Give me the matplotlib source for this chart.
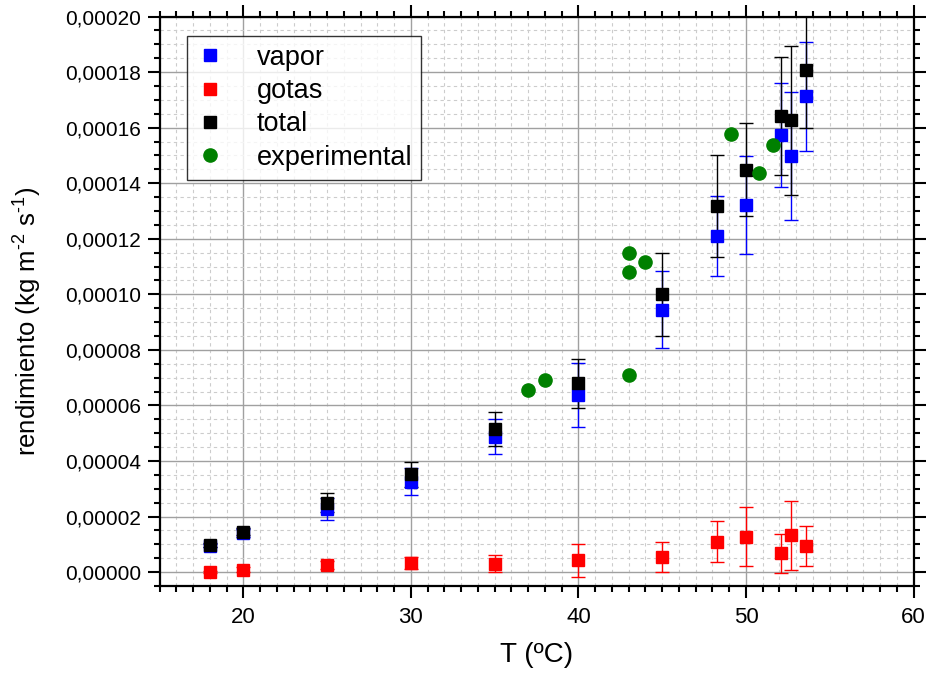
import numpy as np
import matplotlib.pyplot as plt
from matplotlib.lines import Line2D
from matplotlib.ticker import MultipleLocator, FuncFormatter

plt.rcParams['font.family'] = ['Liberation Sans', 'DejaVu Sans']
plt.rcParams['mathtext.fontset'] = 'custom'
plt.rcParams['mathtext.rm'] = 'Liberation Sans'

# temperatures of the simulated points (ºC)
T = [18, 20, 25, 30, 35, 40, 45, 48.3, 50, 52.1, 52.7, 53.6]

vapor = [9.5e-6, 1.40e-5, 2.26e-5, 3.26e-5, 4.87e-5, 6.38e-5, 9.45e-5,
         1.209e-4, 1.321e-4, 1.575e-4, 1.497e-4, 1.713e-4]
vapor_err = [0.6e-6, 1.5e-6, 4.0e-6, 4.9e-6, 6.3e-6, 1.15e-5, 1.38e-5,
             1.44e-5, 1.77e-5, 1.87e-5, 2.3e-5, 1.97e-5]

gotas = [0.0, 8e-7, 2.6e-6, 3.3e-6, 3.0e-6, 4.3e-6, 5.4e-6,
         1.09e-5, 1.28e-5, 6.8e-6, 1.32e-5, 9.5e-6]
gotas_err = [0.3e-6, 0.9e-6, 1.5e-6, 2.3e-6, 3.0e-6, 6.0e-6, 5.4e-6,
             7.4e-6, 1.05e-5, 7.1e-6, 1.25e-5, 7.2e-6]

total = [9.8e-6, 1.46e-5, 2.5e-5, 3.52e-5, 5.15e-5, 6.8e-5, 1.0e-4,
         1.317e-4, 1.448e-4, 1.642e-4, 1.626e-4, 1.808e-4]
total_err = [0.6e-6, 1.2e-6, 3.5e-6, 4.4e-6, 6.0e-6, 8.8e-6, 1.5e-5,
             1.83e-5, 1.67e-5, 2.13e-5, 2.68e-5, 2.1e-5]

T_exp = [37, 38, 43, 43, 43, 44, 49.1, 50.8, 51.6]
exp_val = [6.55e-5, 6.93e-5, 7.1e-5, 1.08e-4, 1.15e-4, 1.118e-4,
           1.577e-4, 1.438e-4, 1.538e-4]

fig = plt.figure(figsize=(9.28, 6.77), dpi=100)
ax = fig.add_axes([0.1719, 0.1344, 0.8125, 0.8412])

ax.errorbar(T, vapor, yerr=vapor_err, fmt='s', color='#0000ff', ms=8.5,
            ecolor='#0000ff', elinewidth=1, capsize=5, capthick=1, zorder=3)
ax.errorbar(T, gotas, yerr=gotas_err, fmt='s', color='#ff0000', ms=8.5,
            ecolor='#ff0000', elinewidth=1, capsize=5, capthick=1, zorder=3)
ax.errorbar(T, total, yerr=total_err, fmt='s', color='#000000', ms=8.5,
            ecolor='#000000', elinewidth=1, capsize=5, capthick=1, zorder=3)
ax.plot(T_exp, exp_val, 'o', color='#008000', ms=9.5, zorder=4)

ax.set_xlim(15, 60)
ax.set_ylim(-0.000005, 0.0002)

ax.xaxis.set_major_locator(MultipleLocator(10))
ax.xaxis.set_minor_locator(MultipleLocator(1))
ax.yaxis.set_major_locator(MultipleLocator(0.00002))
ax.yaxis.set_minor_locator(MultipleLocator(0.000005))
ax.yaxis.set_major_formatter(FuncFormatter(lambda v, p: ('%.5f' % v).replace('.', ',')))

ax.grid(which='major', color='#a0a0a0', lw=1, ls='-', zorder=0)
ax.grid(which='minor', color='#cccccc', lw=0.8, ls=(0, (3, 3)), zorder=0)
ax.set_axisbelow(True)

for s in ax.spines.values():
    s.set_linewidth(1.6)
ax.tick_params(which='both', direction='out', top=True, right=True, width=1.5)
ax.tick_params(which='major', length=8.5)
ax.tick_params(which='minor', length=4.5)
ax.tick_params(axis='x', pad=6.5, labelsize=16)
ax.tick_params(axis='y', pad=5, labelsize=15)

ax.set_xlabel('T (ºC)', fontsize=20)
ax.set_ylabel(r'rendimiento (kg m$^{\text{-2}}$ s$^{\text{-1}}$)', fontsize=18.5)
ax.xaxis.set_label_coords(0.5, -0.098)
ax.yaxis.set_label_coords(-0.155, 0.464)

handles = [
    Line2D([], [], ls='', marker='s', color='#0000ff', ms=8.5),
    Line2D([], [], ls='', marker='s', color='#ff0000', ms=8.5),
    Line2D([], [], ls='', marker='s', color='#000000', ms=8.5),
    Line2D([], [], ls='', marker='o', color='#008000', ms=9.5),
]
leg = ax.legend(handles, ['vapor', 'gotas', 'total', 'experimental'],
                loc='upper left', bbox_to_anchor=(0.0365, 0.966), fontsize=19.5,
                frameon=True, fancybox=False, edgecolor='black',
                handlelength=1.0, handletextpad=1.25, labelspacing=0.27,
                borderpad=0.33, borderaxespad=0)
leg.get_frame().set_linewidth(1)

fig.savefig('out.png', dpi=100)
